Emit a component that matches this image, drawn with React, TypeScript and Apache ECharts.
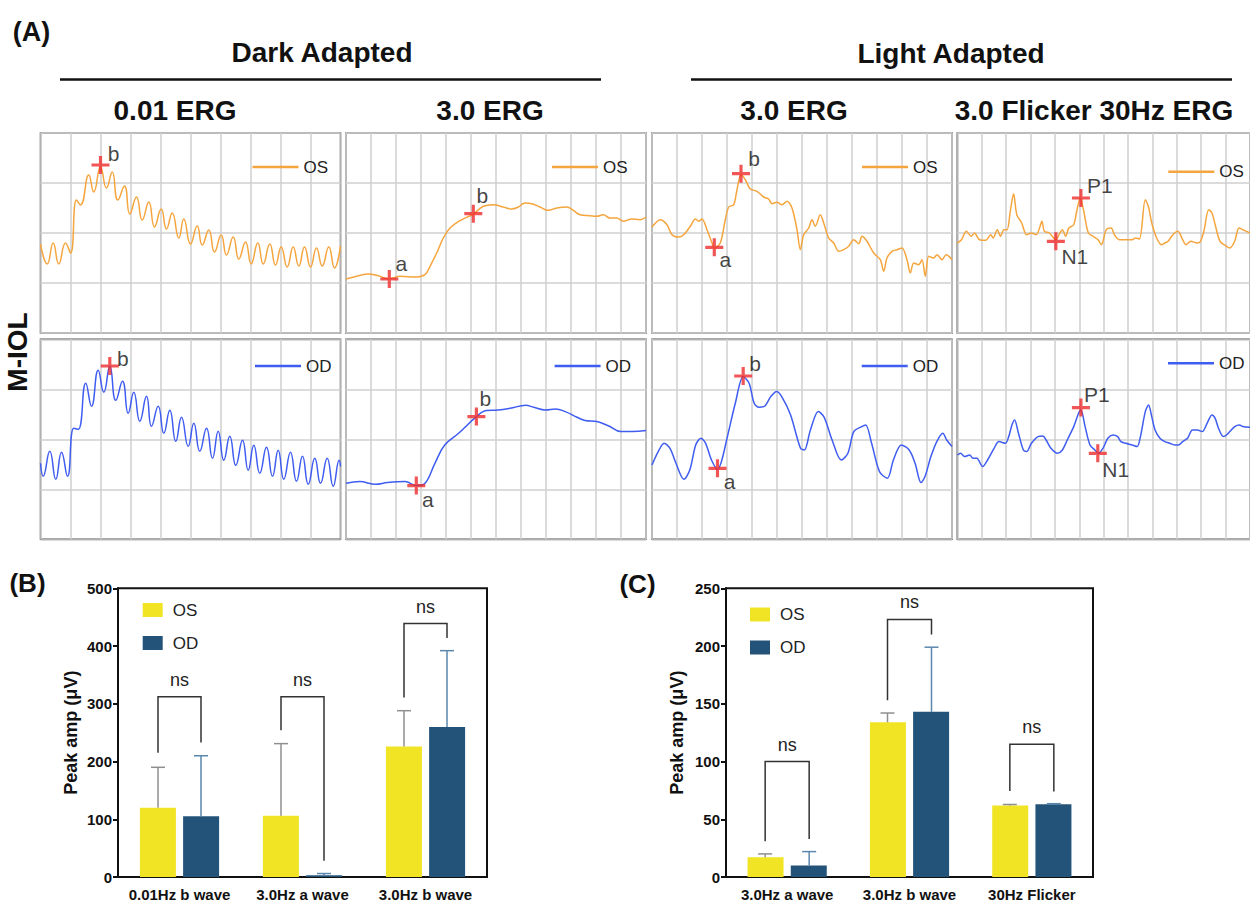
import React, { useEffect, useRef } from "react";
import * as echarts from "echarts";

const FONT = "'Liberation Sans', Arial, Helvetica, sans-serif";

// ---- Panel A traces (x: position within the cell's time grid, y: amplitude in grid units) ----
const osDark001: number[][] = [
  [0, 89], [6.7, 69], [12.7, 90], [18.3, 69], [25, 90], [30, 80], [36, 133], [40, 128], [48.3, 158], [53.3, 141],
  [60, 166], [66, 145], [71.7, 161], [77.3, 133], [84, 147], [89.3, 119], [96, 136], [101.7, 113], [108.3, 131], [114, 106],
  [120.7, 124], [126, 104], [131.7, 120], [138.3, 95], [143.3, 114], [150, 89], [156.7, 107], [161.7, 88], [168.3, 103], [174, 81],
  [180.7, 98], [186, 78], [192.7, 96], [198.3, 74], [205, 91], [210.7, 69], [217.3, 90], [222.7, 69], [229.3, 89], [235, 68],
  [240.7, 86], [246.7, 66], [252.7, 86], [258.3, 67], [264, 86], [270, 66], [276, 85], [281.7, 67], [288.3, 86], [294, 65], [300, 87],
];
const odDark001: number[][] = [
  [0, 76], [2.7, 63], [9.3, 88], [15.3, 60], [21, 87], [27, 63], [33.3, 111], [37.7, 110], [45.3, 156], [51, 133],
  [57.7, 169], [63.3, 147], [69.3, 173], [75.3, 139], [82, 158], [87.7, 126], [93.3, 147], [99.3, 118], [106, 143], [111, 113],
  [117.7, 133], [123.3, 106], [129.3, 129], [135.3, 98], [141, 122], [147.7, 93], [153.3, 116], [159.3, 88], [166, 111], [172, 81],
  [177.7, 108], [183.3, 79], [189.3, 103], [195.3, 74], [202, 99], [207.7, 69], [213.3, 94], [219.3, 66], [226, 92], [232, 63],
  [237.7, 89], [243.3, 60], [250, 87], [256, 58], [262, 83], [267.7, 55], [274.3, 81], [280, 56], [286.7, 81], [292.7, 53],
  [298.7, 79], [300, 73],
];
const osDark30: number[][] = [
  [0, 54], [10.7, 56.7], [22.3, 59], [32.3, 57.3], [43.3, 54], [54, 56.7], [70.7, 56], [79, 58.3], [84, 66.7], [90.7, 80],
  [97.3, 95], [104, 105], [114, 112.3], [127.3, 119], [137.3, 126.7], [147.3, 128.3], [157.3, 126], [165.7, 124], [172.3, 126],
  [179, 130], [185.7, 129.3], [194, 126], [202.3, 122.7], [210.7, 125], [220.7, 126], [227.3, 122.7], [234, 118.3], [244, 117.3],
  [250.7, 116.7], [257.3, 118.3], [264, 115], [270.7, 115], [277.3, 111.7], [285.7, 114], [294, 113.3], [300, 116],
];
const odDark30: number[][] = [
  [0, 56], [13.8, 57.7], [29.6, 55], [41.4, 56.7], [59.2, 57.7], [70.3, 53.7], [79, 56], [88.9, 76], [98.7, 94.3], [112.6, 106],
  [130.4, 122.7], [140.2, 128.7], [152.1, 129.3], [164, 131], [179.8, 134], [187.7, 132], [199.5, 129.3], [209.4, 130.3],
  [219.3, 127.7], [231.2, 122], [239.1, 118.7], [250.9, 117.7], [262.8, 113.3], [274.6, 107.7], [286.5, 107.7], [300, 108.7],
];
const osLight30: number[][] = [
  [0, 106], [8.3, 113.3], [15, 108.3], [20, 98.3], [26.7, 96], [31.7, 98.3], [38.3, 106.7], [43.3, 114], [46.7, 111.7], [50, 114],
  [55, 103.3], [60, 90], [62.3, 85], [68.3, 90], [73.3, 113.3], [76.7, 126], [81.7, 128.3], [85, 143.3], [89, 158.3], [93.3, 153.3],
  [98.3, 144], [105, 141.7], [111.7, 136], [116.7, 134], [120, 129.3], [125, 130.7], [130, 128.3], [135, 131.7], [140, 125],
  [145, 103.3], [148.3, 83.3], [151.7, 98.3], [156.7, 105], [160, 113.3], [163.3, 106.7], [168.3, 118.3], [171.7, 110], [176.7, 95],
  [181.7, 90], [186.7, 81.7], [191.7, 83.3], [196.7, 86.7], [201.7, 93.3], [206.7, 89.3], [210, 96.7], [215, 91.7], [221.7, 80],
  [228.3, 73.3], [231.7, 61.7], [235, 75], [240, 81.7], [245, 83.3], [250, 85], [255, 73.3], [258.3, 60], [261.7, 70], [266.7, 68.3],
  [270, 73.3], [273.3, 56.7], [276.7, 76.7], [281.7, 75], [285, 78.3], [290, 73.3], [294.3, 78.3], [300, 73.3],
];
const odLight30: number[][] = [
  [0, 74.3], [6.2, 87.7], [12.1, 96], [18, 91], [24, 76], [31.9, 60], [37.8, 69.3], [43.7, 94.3], [48.9, 101], [53.6, 96],
  [59.5, 79.3], [65.5, 70], [69.4, 77.7], [75.4, 102.7], [83.3, 136], [91.2, 162.7], [97.1, 156], [102.2, 136], [107, 132],
  [112.9, 133.3], [118.8, 142.7], [124.8, 147.7], [130.7, 141], [138.6, 124.3], [148.5, 91], [152.4, 89.3], [158.4, 109.3],
  [166.3, 127.7], [172.2, 122], [180.1, 99.3], [189.2, 79.3], [195.9, 86], [201.8, 107.7], [209.7, 112.7], [213.7, 114.3],
  [219.6, 96], [227.5, 67.7], [235.4, 61], [241.4, 79.3], [249.3, 94.3], [257.2, 89.3], [263.1, 76], [269, 56.7], [273, 62.7],
  [278.9, 82.7], [284.8, 97.7], [290.8, 106], [294.7, 99.3], [300, 92.7],
];
const osFlicker: number[][] = [
  [0, 90], [4.3, 93.3], [9.3, 101.7], [14.3, 96.7], [17.7, 100], [22.7, 93.3], [29.3, 92.7], [34.3, 98.3], [36.7, 95], [41, 103.3],
  [44.3, 96.7], [47.7, 103.3], [51, 103.3], [54.3, 121.7], [57.7, 139.3], [61, 118.3], [66, 110], [71, 98.3], [76, 100], [81, 98.3],
  [84.3, 105], [86.7, 111.7], [89.3, 101.7], [94.3, 100], [101, 93.3], [104.3, 98.3], [107.7, 103.3], [111, 96.7], [114.3, 105],
  [119.3, 108.3], [122.7, 123.3], [126, 135], [129.3, 123.3], [134.3, 100], [139.3, 96.7], [144.3, 93.3], [147.7, 88.3],
  [152.7, 103.3], [157.7, 105], [161, 98.3], [166, 93.3], [172.7, 93.3], [179.3, 93.3], [182.7, 95], [186.7, 94], [192.7, 133.3],
  [196, 126], [199.3, 110], [204.3, 95], [209.3, 88.3], [212.7, 90], [216, 91.7], [221, 98.3], [226, 101.7], [231, 93.3],
  [234.3, 88.3], [239.3, 91.7], [246, 90], [249.3, 91.7], [252.7, 101.7], [257.7, 123.3], [261, 120], [264.3, 108.3],
  [269.3, 91.7], [276, 86.7], [279.3, 85], [284.3, 91.7], [288.7, 105], [292.7, 103.3], [300, 100],
];
const odFlicker: number[][] = [
  [0, 84.3], [3.3, 86], [7.7, 82.7], [12.7, 84.3], [16, 81], [20, 81], [26, 72.7], [31, 79.3], [37.7, 91], [42.7, 97.7],
  [49.3, 96], [52.7, 102.7], [56, 114.3], [58.7, 119.3], [62.7, 106], [67.7, 89.3], [71, 87.7], [76, 96], [82.7, 102.7],
  [87.7, 103.3], [91, 99.3], [96, 91], [102.7, 86], [107.7, 89.3], [112.7, 99.3], [119.3, 112.7], [124.3, 126], [126.7, 129.3],
  [131, 112.7], [136, 94.3], [141, 89.3], [144.7, 86], [149.3, 91], [154.3, 101], [159.3, 104.3], [164.3, 102.7], [167.7, 97.7],
  [172.7, 96], [179.3, 94.3], [184.3, 92.7], [187.7, 102.7], [192.7, 127.7], [196, 134.3], [199.3, 122.7], [202.7, 109.3],
  [207.7, 101], [212.7, 97.7], [217.7, 96], [222.7, 94.3], [226.7, 94.3], [231, 97.7], [236, 101], [241, 109.3], [246, 109.3],
  [251, 107.7], [256, 116], [261, 124.3], [264.3, 121], [267.7, 111], [272.7, 102.7], [276, 104.3], [279.3, 107.7],
  [284.3, 112.7], [289.3, 114.3], [292.7, 112.7], [300, 112],
];

// marked points: [x, y, label]
const mkOsDark001 = [[60, 168, "b"]];
const mkOdDark001 = [[69.3, 173.3, "b"]];
const mkOsDark30 = [[43.3, 54, "a"], [127.3, 119.3, "b"]];
const mkOdDark30 = [[70.3, 53.7, "a"], [130.4, 122.7, "b"]];
const mkOsLight30 = [[62.3, 85.7, "a"], [89, 159.3, "b"]];
const mkOdLight30 = [[65.5, 71, "a"], [91.2, 163.3, "b"]];
const mkOsFlicker = [[101, 91.7, "N1"], [126.7, 135, "P1"]];
const mkOdFlicker = [[144, 86, "N1"], [126.7, 131.7, "P1"]];

// ---- Panel B ----
const bCategories = ["0.01Hz b wave", "3.0Hz a wave", "3.0Hz b wave"];
const bOS = [120, 106, 226];
const bOSUpper = [190, 231, 288];
const bOD = [105, 3, 260];
const bODUpper = [210, 6, 392];
const bBracketLeft = [215, 254, 311];
const bBracketRight = [233, 28, 414];
const bBracketTop = [312, 312, 439];
const bYTicks = [0, 100, 200, 300, 400, 500];

// ---- Panel C ----
const cCategories = ["3.0Hz a wave", "3.0Hz b wave", "30Hz Flicker"];
const cOS = [17, 134, 62];
const cOSUpper = [20, 142, 62.8];
const cOD = [10, 143, 63];
const cODUpper = [22, 199, 63.5];
const cBracketLeft = [31, 153, 74.5];
const cBracketRight = [33, 210, 74];
const cBracketTop = [100, 223, 115];
const cYTicks = [0, 50, 100, 150, 200, 250];

const OS_LINE = "#F5A53D";
const OD_LINE = "#3F5DF0";
const YEL = "#F1E425";
const NAVY = "#24537A";
const PLUS = "path://M7,0H10V7H17V10H10V17H7V10H0V7H7Z";

export default function App() {
  const ref = useRef<HTMLDivElement>(null);
  useEffect(() => {
    if (!ref.current) return;
    const chart = echarts.init(ref.current, null, { renderer: "svg" });

    const colLeft = [40.5, 346, 652, 957.3];
    const rowTop = [133, 339.3];
    const cells = [
      { data: osDark001, mk: mkOsDark001, name: "OS", col: 0, row: 0, smooth: 0.5, lg: [212, 34], off: [[13, -12]] },
      { data: osDark30, mk: mkOsDark30, name: "OS", col: 1, row: 0, smooth: 0.4, lg: [206, 34], off: [[12, -16], [9, -18]] },
      { data: osLight30, mk: mkOsLight30, name: "OS", col: 2, row: 0, smooth: 0.3, lg: [210, 34], off: [[11, 12], [13, -15]] },
      { data: osFlicker, mk: mkOsFlicker, name: "OS", col: 3, row: 0, smooth: 0.3, lg: [211, 38.7], off: [[19, 15], [19, -13]] },
      { data: odDark001, mk: mkOdDark001, name: "OD", col: 0, row: 1, smooth: 0.5, lg: [214.5, 26.7], off: [[13, -8]] },
      { data: odDark30, mk: mkOdDark30, name: "OD", col: 1, row: 1, smooth: 0.4, lg: [208.6, 26.7], off: [[11.5, 14], [9, -18]] },
      { data: odLight30, mk: mkOdLight30, name: "OD", col: 2, row: 1, smooth: 0.3, lg: [209.7, 26.7], off: [[12, 13], [12, -13]] },
      { data: odFlicker, mk: mkOdFlicker, name: "OD", col: 3, row: 1, smooth: 0.3, lg: [210.7, 24], off: [[18, 16], [16, -13]] },
    ];

    const grid: any[] = [];
    const xAxis: any[] = [];
    const yAxis: any[] = [];
    const series: any[] = [];
    const legend: any[] = [];

    cells.forEach((c, i) => {
      const left = colLeft[c.col];
      const top = rowTop[c.row];
      grid.push({ left, top, width: 300, height: 200, show: true, borderColor: "#555", borderWidth: 1.5, backgroundColor: "#fff" });
      const hidden = { axisLine: { show: false }, axisTick: { show: false }, axisLabel: { show: false } };
      xAxis.push({ gridIndex: i, type: "value", min: 0, max: 300, interval: c.col === 0 ? 30 : 25, ...hidden, splitLine: { show: true, lineStyle: { color: "#cfcfcf", width: 1.5 } } });
      yAxis.push({ gridIndex: i, type: "value", min: 0, max: 200, interval: 50, ...hidden, splitLine: { show: true, lineStyle: { color: "#cfcfcf", width: 1.5 } } });
      const col = c.name === "OS" ? OS_LINE : OD_LINE;
      series.push({
        type: "line", name: c.name, xAxisIndex: i, yAxisIndex: i, data: c.data, showSymbol: false, smooth: c.smooth,
        color: col, lineStyle: { color: col, width: 1.5 }, clip: true, z: 3,
      });
      series.push({
        type: "scatter", name: "mk" + i, xAxisIndex: i, yAxisIndex: i, symbol: PLUS, symbolSize: 18, z: 5,
        itemStyle: { color: "#EE2A2A" },
        data: c.mk.map((m, k) => ({
          value: [m[0], m[1]], name: m[2],
          label: { show: true, position: "inside", formatter: "{b}", offset: c.off[k], color: "#111", fontSize: 21, fontFamily: FONT },
        })),
      });
      legend.push({
        data: [c.name], left: left + c.lg[0], top: top + c.lg[1] - 8.5, padding: 0, icon: "rect", itemWidth: 46, itemHeight: 2.5,
        selectedMode: false, textStyle: { fontSize: 17, color: "#222", fontFamily: FONT },
      });
    });

    // bar charts
    const barPanels = [
      { cats: bCategories, os: bOS, osU: bOSUpper, od: bOD, odU: bODUpper, bl: bBracketLeft, br: bBracketRight, bt: bBracketTop,
        ticks: bYTicks, grid: { left: 118, top: 588.3, width: 369, height: 289 }, nameGap: 38, off: 21.5, lg: [142.7, 601.5] },
      { cats: cCategories, os: cOS, osU: cOSUpper, od: cOD, odU: cODUpper, bl: cBracketLeft, br: cBracketRight, bt: cBracketTop,
        ticks: cYTicks, grid: { left: 726, top: 588.3, width: 367, height: 293.4 }, nameGap: 40, off: 22, lg: [750, 606] },
    ];
    barPanels.forEach((p, j) => {
      const gi = 8 + j;
      grid.push({ ...p.grid, show: true, borderColor: "#111", borderWidth: 2, backgroundColor: "transparent" });
      xAxis.push({
        gridIndex: gi, type: "category", data: p.cats,
        axisLine: { show: true, lineStyle: { color: "#111", width: 2 } }, axisTick: { show: false },
        axisLabel: { interval: 0, fontWeight: "bold", fontSize: 15, color: "#111", margin: 10, fontFamily: FONT },
      });
      yAxis.push({
        gridIndex: gi, type: "value", min: p.ticks[0], max: p.ticks[p.ticks.length - 1], interval: p.ticks[1] - p.ticks[0],
        axisLine: { show: true, lineStyle: { color: "#111", width: 2 } },
        axisTick: { show: true, length: 5, lineStyle: { color: "#111", width: 2 } },
        axisLabel: { fontWeight: "bold", fontSize: 15, color: "#111", margin: 6, fontFamily: FONT },
        splitLine: { show: false },
        name: "Peak amp (\u03bcV)", nameLocation: "middle", nameGap: p.nameGap,
        nameTextStyle: { fontWeight: "bold", fontSize: 18, color: "#111", fontFamily: FONT },
      });
      series.push({ type: "bar", name: "OS bars", xAxisIndex: gi, yAxisIndex: gi, data: p.os, barWidth: 36, barGap: "20%", itemStyle: { color: YEL }, z: 2 });
      series.push({ type: "bar", name: "OD bars", xAxisIndex: gi, yAxisIndex: gi, data: p.od, barWidth: 36, barGap: "20%", itemStyle: { color: NAVY }, z: 2 });
      const errSeries = (vals: number[], ups: number[], dx: number, color: string) => ({
        type: "custom", xAxisIndex: gi, yAxisIndex: gi, z: 3, silent: true,
        data: vals.map((v, i) => [i, v, ups[i]]),
        renderItem: (params: any, api: any) => {
          const a = api.coord([api.value(0), api.value(1)]);
          const b = api.coord([api.value(0), api.value(2)]);
          const x = a[0] + dx;
          return {
            type: "group",
            children: [
              { type: "line", shape: { x1: x, y1: a[1], x2: x, y2: b[1] }, style: { stroke: color, lineWidth: 1.5 } },
              { type: "line", shape: { x1: x - 7, y1: b[1], x2: x + 7, y2: b[1] }, style: { stroke: color, lineWidth: 1.5 } },
            ],
          };
        },
      });
      series.push(errSeries(p.os, p.osU, -p.off, "#8f8f8f"));
      series.push(errSeries(p.od, p.odU, p.off, "#5b87ad"));
      series.push({
        type: "custom", xAxisIndex: gi, yAxisIndex: gi, z: 4, silent: true,
        data: p.bl.map((v, i) => [i, v, p.br[i], p.bt[i]]),
        renderItem: (params: any, api: any) => {
          const l = api.coord([api.value(0), api.value(1)]);
          const r = api.coord([api.value(0), api.value(2)]);
          const t = api.coord([api.value(0), api.value(3)]);
          const lx = l[0] - p.off;
          const rx = l[0] + p.off;
          return {
            type: "group",
            children: [
              { type: "polyline", shape: { points: [[lx, l[1]], [lx, t[1]], [rx, t[1]], [rx, r[1]]] }, style: { stroke: "#333", lineWidth: 1.5, fill: null } },
              { type: "text", x: l[0], y: t[1] - 17, style: { text: "ns", align: "center", verticalAlign: "middle", textAlign: "center", textVerticalAlign: "middle", fontSize: 18, fill: "#222", fontFamily: FONT } },
            ],
          };
        },
      });
      legend.push({
        data: ["OS bars", "OD bars"], formatter: (n: string) => n.slice(0, 2), orient: "vertical", left: p.lg[0], top: p.lg[1],
        padding: 0, icon: "rect", itemWidth: 20, itemHeight: 14, itemGap: 16, selectedMode: false,
        textStyle: { fontSize: 17, color: "#222", fontFamily: FONT, padding: [0, 0, 0, 5] },
      });
    });

    const txt = (text: string, x: number, y: number, size: number, extra: any = {}) => ({
      type: "text", x, y, ...extra,
      style: { text, align: "center", verticalAlign: "middle", textAlign: "center", textVerticalAlign: "middle", fontSize: size, fontWeight: "bold", fill: "#111", fontFamily: FONT },
    });

    const graphic = [
      txt("(A)", 31.5, 31.5, 27),
      txt("Dark Adapted", 322, 52, 28),
      txt("Light Adapted", 951, 53, 28),
      { type: "line", shape: { x1: 60, y1: 79.5, x2: 601, y2: 79.5 }, style: { stroke: "#111", lineWidth: 2.5 } },
      { type: "line", shape: { x1: 691, y1: 79.5, x2: 1232, y2: 79.5 }, style: { stroke: "#111", lineWidth: 2.5 } },
      txt("0.01 ERG", 175, 110, 28),
      txt("3.0 ERG", 490, 110, 28),
      txt("3.0 ERG", 794, 110, 28),
      txt("3.0 Flicker 30Hz ERG", 1094, 110, 28),
      txt("M-IOL", 17, 352, 28, { rotation: Math.PI / 2 }),
      txt("(B)", 27.5, 583, 26),
      txt("(C)", 637.5, 584, 26),
    ];

    chart.setOption({
      animation: false,
      backgroundColor: "#fff",
      textStyle: { fontFamily: FONT },
      grid, xAxis, yAxis, series, legend, graphic,
    });
    return () => chart.dispose();
  }, []);
  return <div ref={ref} style={{ position: "absolute", left: 0, top: 0, width: 1250, height: 902 }} />;
}
